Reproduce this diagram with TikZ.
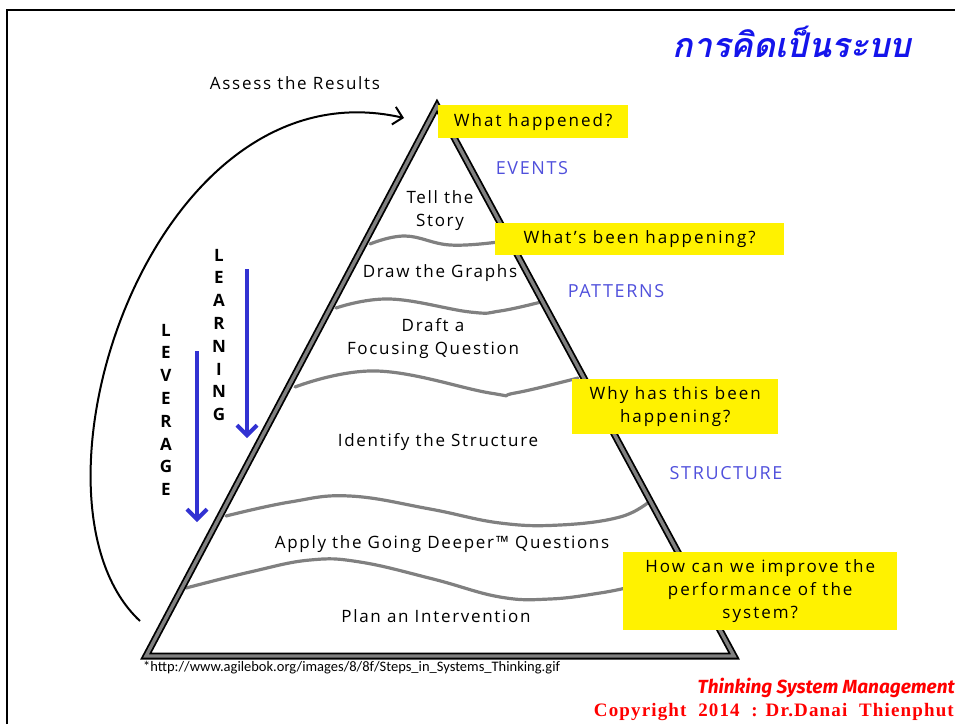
\documentclass[tikz,border=0pt]{standalone}
\usepackage{fontspec}
\setmainfont{Open Sans}
\newfontfamily\thaifont[Script=Thai]{Loma}
\newfontfamily\urlfont{Carlito}
\newfontfamily\brandfont{Fira Sans}
\newfontfamily\copyfont{Liberation Serif}
\usetikzlibrary{positioning,calc}
\usetikzlibrary{arrows.meta}

\definecolor{levelblue}{RGB}{80,80,220}
\definecolor{arrowblue}{RGB}{50,50,210}
\definecolor{titleblue}{RGB}{20,20,235}
\definecolor{bandgray}{RGB}{128,128,128}

\begin{document}
\begin{tikzpicture}[x=1pt,y=-1pt,
         layer/.style = {align=center, inner sep=0pt,
         font=\fontsize{17}{23}\selectfont\addfontfeature{LetterSpace=10}},
         question/.style = {fill=yellow, align=center, inner sep=0pt,
         anchor=north west, font=\fontsize{17}{23}\selectfont\addfontfeature{LetterSpace=12}},
         level/.style = {text=levelblue, inner sep=0pt,
         font=\fontsize{18}{20}\selectfont\addfontfeature{LetterSpace=9}},
         vletter/.style = {inner sep=0pt, font=\bfseries\fontsize{17}{20}\selectfont},
         wave/.style = {draw=bandgray, line width=3.2pt, line cap=round},
         bluearrow/.style = {draw=arrowblue, line width=4pt,
         -{Straight Barb[length=10pt,width=20pt]}},
]

      \useasboundingbox (0,0) rectangle (955,724);

      % slide frame
      \coordinate (frametl) at (7,10);
      \draw[line width=2.5pt] (7,724) -- (frametl) -- (958,10);

      % title
      \node[text=titleblue, font=\thaifont\bfseries\itshape\fontsize{34}{40}\selectfont]
      (title) at (792,42) {การคิดเป็นระบบ};

      % layers of the pyramid
      \draw[wave] plot[smooth, tension=0.7] coordinates
      {(370,244) (405,236) (450,245) (498,242)};
      \draw[wave] plot[smooth, tension=0.7] coordinates
      {(336,308) (390,299) (470,312) (500,311) (541,302)};
      \draw[wave] plot[smooth, tension=0.7] coordinates
      {(295,387) (377,371) (490,393) (515,393) (578,378)};
      \draw[wave] plot[smooth, tension=0.7] coordinates
      {(226,516) (290,502) (350,496) (430,509) (500,523) (560,525) (620,517) (650,501)};
      \draw[wave] plot[smooth, tension=0.7] coordinates
      {(186,588) (250,572) (310,560) (360,562) (433,579) (500,597) (550,599)
      (600,593) (630,587)};

      % pyramid
      \coordinate (apex) at (437,106);
      \coordinate (bl)   at (146,656);
      \coordinate (br)   at (734,656);
      \draw[line width=7pt, line join=miter] (apex) -- (bl) -- (br) -- cycle;
      \draw[bandgray, line width=3.4pt, line join=miter] (apex) -- (bl) -- (br) -- cycle;

      % steps
      \node[layer] (story)     at (440,211) {Tell the\\Story};
      \node[layer] (graphs)    at (440,273) {Draw the Graphs};
      \node[layer] (focus)     at (433,339) {Draft a\\Focusing Question};
      \node[layer] (structure) at (438,442) {Identify the Structure};
      \node[layer] (deeper)    at (442,544) {Apply the Going Deeper™ Questions};
      \node[layer] (plan)      at (436,616) {Plan an Intervention};

      % questions
      \node[question, minimum width=190pt, minimum height=33pt]
      (qwhat) at (438,105) {What happened?};
      \node[question, minimum width=289pt, minimum height=32pt]
      (qbeen) at (495,223) {What's been happening?};
      \node[question, minimum width=206pt, minimum height=55pt]
      (qwhy) at (572,379) {Why has this been\\happening?};
      \node[question, minimum width=274pt, minimum height=78pt]
      (qhow) at (623,552) {How can we improve the\\performance of the\\system?};

      % levels
      \node[level] (events)   at (532,168) {EVENTS};
      \node[level] (patterns) at (616,291) {PATTERNS};
      \node[level] (struct)   at (726,473) {STRUCTURE};

      % learning and leverage
      \foreach \ch [count=\i] in {L,E,A,R,N,I,N,G}
         \node[vletter] (learn\i) at (219,{255+22.8*(\i-1)}) {\ch};
      \foreach \ch [count=\i] in {L,E,V,E,R,A,G,E}
         \node[vletter] (lever\i) at (166,{330+22.8*(\i-1)}) {\ch};

      \coordinate (learntop) at (247,269);
      \coordinate (learntip) at (247,438);
      \coordinate (levertop) at (197,351);
      \coordinate (levertip) at (197,522);
      \draw[bluearrow] (learntop) -- (learntip);
      \draw[bluearrow] (levertop) -- (levertip);

      % assess the results
      \node[layer] (assess) at (295,83) {Assess the Results};
      \coordinate (assessfrom) at (140,621);
      \coordinate (assessto)   at (404,118);
      \draw[line width=2pt, -{Straight Barb[length=9pt,width=18pt]}]
      (assessfrom) .. controls (10,500) and (150,60) .. (assessto);

      % source and footer
      \node[anchor=west, inner sep=0pt, font=\urlfont\fontsize{14.5}{16}\selectfont]
      (source) at (143,668) {*http://www.agilebok.org/images/8/8f/Steps\_in\_Systems\_Thinking.gif};
      \node[anchor=east, inner sep=0pt, text=red,
      font=\brandfont\bfseries\itshape\fontsize{19}{22}\selectfont]
      (brand) at (955,688) {Thinking System Management};
      \node[anchor=east, inner sep=0pt, text=red,
      font=\copyfont\bfseries\fontsize{19}{22}\selectfont\addfontfeature{LetterSpace=6}]
      (copy) at (954,712) {Copyright~ 2014~ : Dr.Danai~ Thienphut};

\end{tikzpicture}
\end{document}
